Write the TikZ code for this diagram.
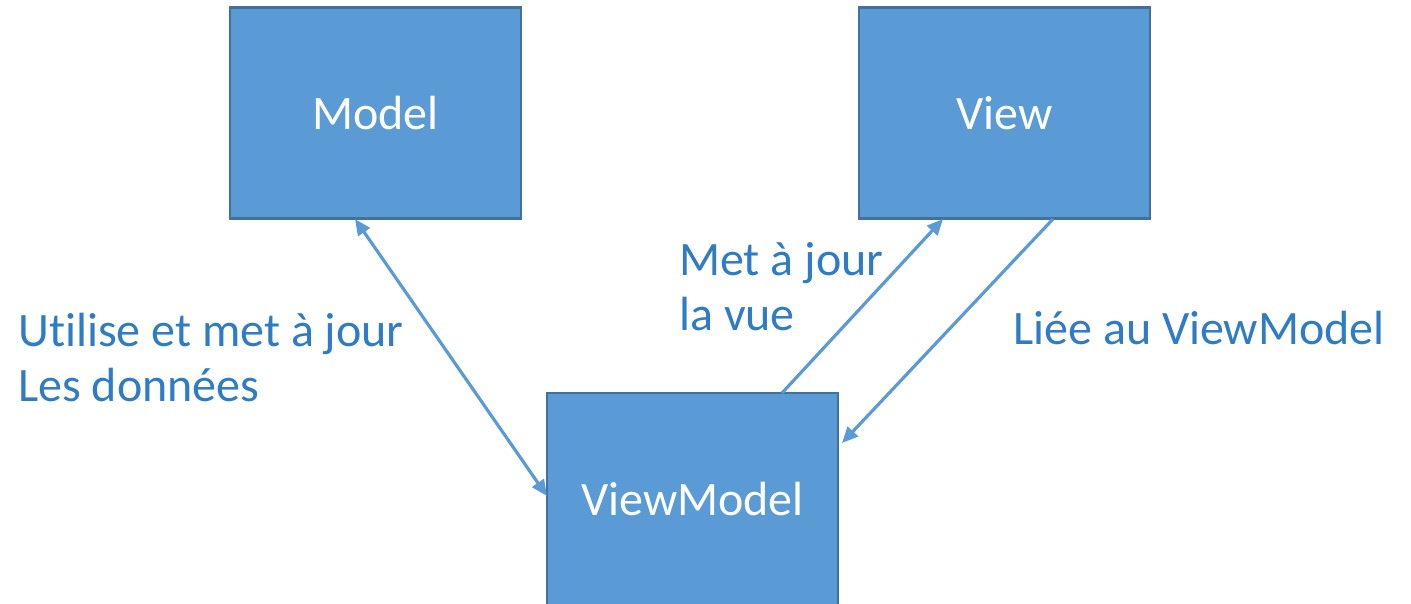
\documentclass[tikz,border=0pt]{standalone}
\usepackage{fontspec}
\setmainfont{Carlito}[Ligatures=NoCommon]
\usetikzlibrary{arrows.meta}
\definecolor{boxfill}{HTML}{5B9BD5}
\definecolor{boxline}{HTML}{41719C}
\definecolor{labeltext}{HTML}{2E7BC6}
\begin{document}
\begin{tikzpicture}[x=1pt,y=-1pt,
  block/.style={draw=boxline, line width=2.4pt, fill=boxfill, minimum width=291pt,
    minimum height=211pt, inner sep=0pt, text=white, font=\fontsize{48}{56}\selectfont},
  lbl/.style={anchor=base west, text=labeltext, align=left, inner sep=0pt,
    font=\fontsize{48}{55}\selectfont},
  link/.style={draw=boxfill, line width=3.2pt, arrows={-Triangle[length=16pt,width=14pt]}}]
  \useasboundingbox (0,0) rectangle (1411,603);
  % the three components
  \node[block] (model) at (375.5,113) {Model};
  \node[block] (view) at (1004.5,113) {View};
  \node[block, minimum height=220pt, text depth=0pt] (vm) at (692.5,503) {\raisebox{8pt}{ViewModel}};
  % connector end points on the box edges
  \coordinate (mA) at (355,219);
  \coordinate (vmL) at (547,496);
  \coordinate (vmT) at (782,393);
  \coordinate (vB) at (943,219);
  \coordinate (vB2) at (1053,219);
  \coordinate (vmR) at (842,443);
  % connectors
  \draw[link, arrows={Triangle[length=16pt,width=14pt]-Triangle[length=16pt,width=14pt]}] (mA) -- (vmL);
  \draw[link] (vmT) -- (vB);
  \draw[link] (vB2) -- (vmR);
  % labels
  \node[lbl] (l1) at (18,346) {Utilise et met à jour};
  \node[lbl] (l2) at (18,401) {Les données};
  \node[lbl] (l3) at (679,275) {Met à jour};
  \node[lbl] (l4) at (679,330) {la vue};
  \node[lbl] (l5) at (1013,344) {Liée au ViewModel};
\end{tikzpicture}
\end{document}
